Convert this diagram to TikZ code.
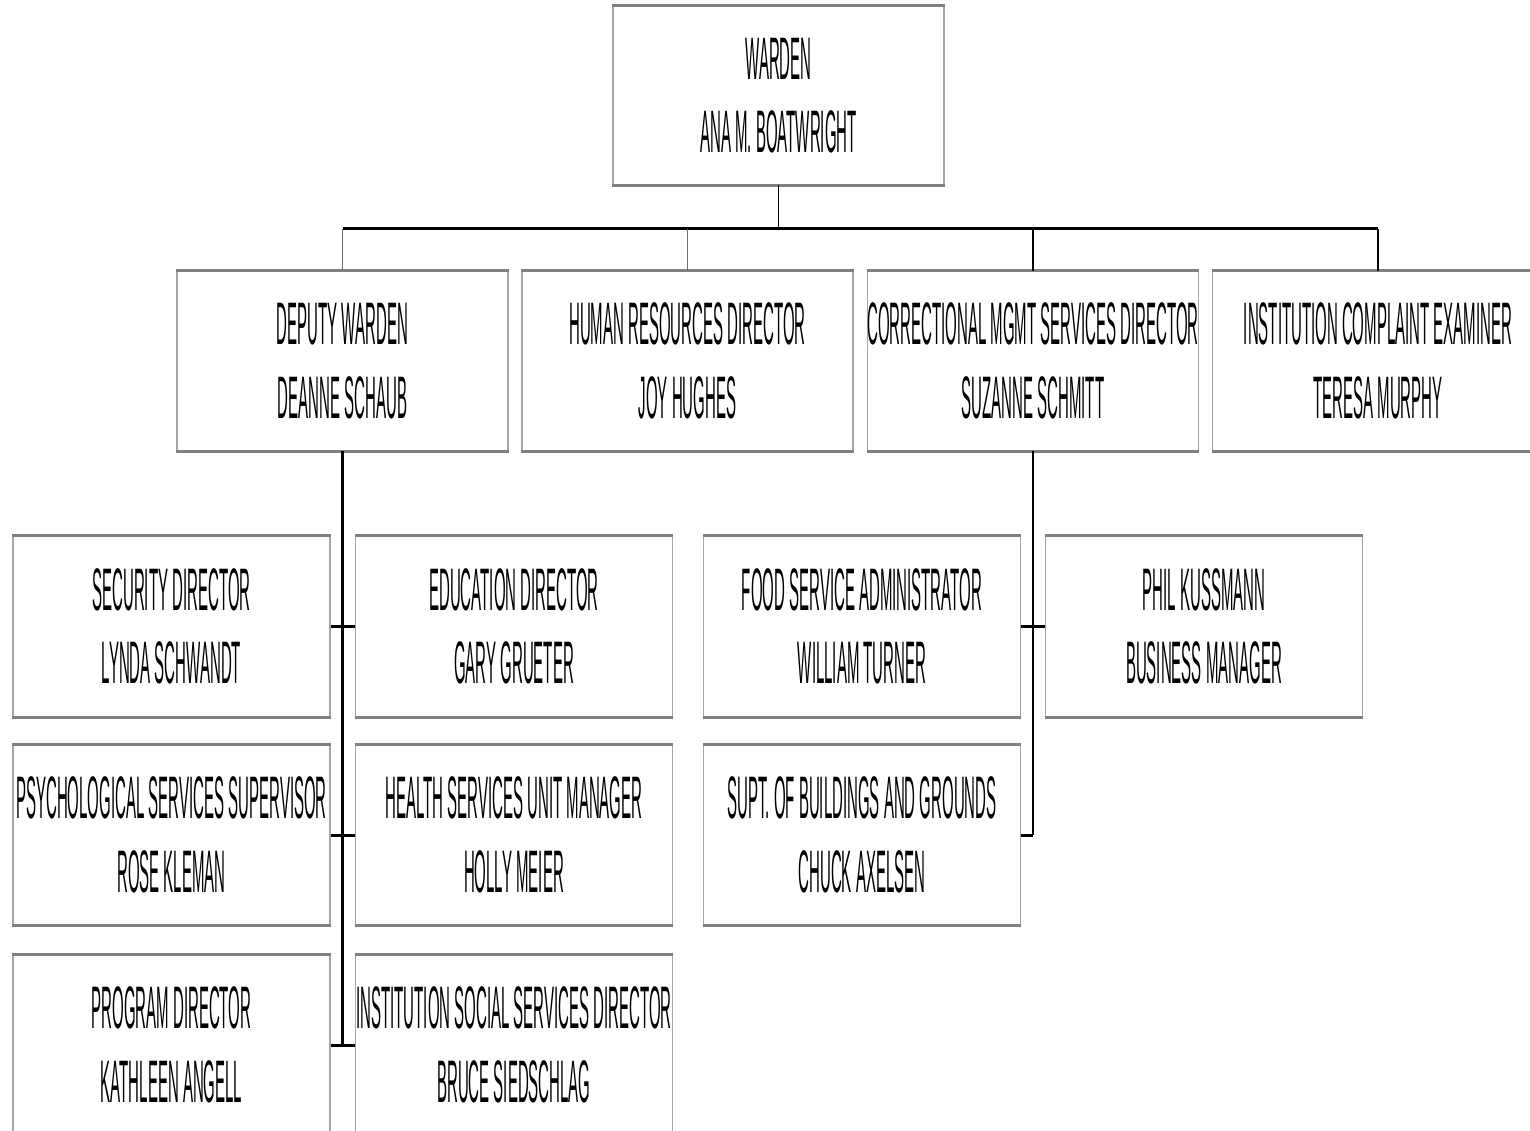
\documentclass[tikz,border=0pt]{standalone}
\usepackage{fontspec}
\newfontfamily\orgfont{Liberation Sans}[FakeStretch=0.25]
\definecolor{edgelight}{HTML}{A6A6A6}
\definecolor{edgedark}{HTML}{808080}
\definecolor{dropgray}{HTML}{6E6E6E}
\tikzset{
  orgbox/.style={draw=edgelight, line width=1.5pt, fill=white, inner sep=0pt,
    align=center, font=\orgfont\fontsize{60}{73.5}\selectfont},
  wide/.style={orgbox, minimum width=331, minimum height=178},
  narrow/.style={orgbox, minimum width=317, minimum height=180},
  rim/.style={draw=edgedark, line width=3pt},
  heavy/.style={draw=black, line width=3pt},
  light/.style={draw=black, line width=1.5pt},
}
\begin{document}
\begin{tikzpicture}[x=1pt, y=-1pt]
\useasboundingbox (0,0) rectangle (1530,1130);

% top level
\node[wide] (warden) at (778.5,95.5) {WARDEN\\ANA M. BOATWRIGHT};

% second level
\node[wide, minimum height=179] (deputy) at (342.5,361) {DEPUTY WARDEN\\DEANNE SCHAUB};
\node[wide, minimum height=179] (hr) at (687.5,361) {HUMAN RESOURCES DIRECTOR\\JOY HUGHES};
\node[wide, minimum height=179] (cms) at (1033,361) {CORRECTIONAL MGMT SERVICES DIRECTOR\\SUZANNE SCHMITT};
\node[wide, minimum height=179] (ice) at (1378,361) {INSTITUTION COMPLAINT EXAMINER\\TERESA MURPHY};

% staff under the deputy warden
\node[narrow] (security) at (171.5,626.5) {SECURITY DIRECTOR\\LYNDA SCHWANDT};
\node[narrow] (education) at (514,626.5) {EDUCATION DIRECTOR\\GARY GRUETER};
\node[narrow] (psych) at (171.5,835) {PSYCHOLOGICAL SERVICES SUPERVISOR\\ROSE KLEMAN};
\node[narrow] (health) at (514,835) {HEALTH SERVICES UNIT MANAGER\\HOLLY MEIER};
\node[narrow] (program) at (171.5,1045) {PROGRAM DIRECTOR\\KATHLEEN ANGELL};
\node[narrow] (social) at (514,1045) {INSTITUTION SOCIAL SERVICES DIRECTOR\\BRUCE SIEDSCHLAG};

% staff under correctional management services
\node[narrow] (food) at (862,626.5) {FOOD SERVICE ADMINISTRATOR\\WILLIAM TURNER};
\node[narrow] (phil) at (1204,626.5) {PHIL KUSSMANN\\BUSINESS MANAGER};
\node[narrow] (supt) at (862,835) {SUPT. OF BUILDINGS AND GROUNDS\\CHUCK AXELSEN};

% heavier top and bottom edges of every box
\foreach \n in {warden,deputy,hr,cms,ice,security,education,psych,health,program,social,food,phil,supt}
  \draw[rim] (\n.north west) -- (\n.north east) (\n.south west) -- (\n.south east);

% warden to second level
\coordinate (busL) at (343,228.5);
\coordinate (busR) at (1378,228.5);
\draw[light] (warden.south) -- (warden.south |- busL);
\draw[heavy] (busL) -- (busR);
\draw[line width=1.5pt, draw=dropgray] (deputy.north |- busL) -- (deputy.north);
\draw[line width=1.5pt, draw=dropgray] (hr.north |- busL) -- (hr.north);
\draw[light] (cms.north |- busL) -- (cms.north);
\draw[light] (ice.north |- busL) -- (ice.north);

% deputy warden spine
\draw[heavy] (deputy.south) -- (deputy.south |- program.east);
\draw[heavy] (security.east) -- (education.west);
\draw[heavy] (psych.east) -- (health.west);
\draw[heavy] (program.east) -- (social.west);

% correctional management services spine
\draw[line width=2pt] (cms.south) -- (cms.south |- supt.east);
\draw[heavy] (food.east) -- (phil.west);
\draw[heavy] (supt.east) -- (cms.south |- supt.east);
\end{tikzpicture}
\end{document}
